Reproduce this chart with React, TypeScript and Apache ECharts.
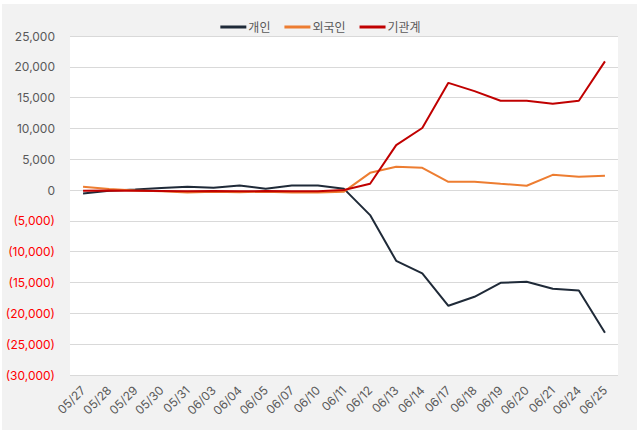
import React, { useEffect, useRef } from "react";
import * as echarts from "echarts";

const categories = ["05/27","05/28","05/29","05/30","05/31","06/03","06/04","06/05","06/07","06/10","06/11","06/12","06/13","06/14","06/17","06/18","06/19","06/20","06/21","06/24","06/25"];
const individual = [-540,-100,100,320,540,380,760,210,760,760,200,-4060,-11470,-13520,-18770,-17310,-15040,-14870,-16010,-16280,-23150];
const foreign = [540,160,-50,-200,-380,-250,-350,-250,-400,-380,-250,2800,3780,3620,1350,1350,1020,700,2480,2160,2320];
const institution = [-100,-50,-100,-150,-200,-150,-200,-150,-200,-200,0,1020,7300,10070,17400,16060,14490,14490,14000,14490,20880];
const seriesNames = ["개인","외국인","기관계"];
const seriesColors = ["#1f2a38","#ED7D31","#C00000"];

const FONT = "Inter, 'Noto Sans CJK KR', sans-serif";

function fmt(v: number) {
  const s = Math.abs(v).toLocaleString("en-US");
  return v < 0 ? `(${s})` : s;
}

export default function App() {
  const ref = useRef<HTMLDivElement>(null);
  useEffect(() => {
    if (!ref.current) return;
    const chart = echarts.init(ref.current, undefined, { renderer: "svg" });
    const data = [individual, foreign, institution];
    chart.setOption({
      animation: false,
      backgroundColor: "#ffffff",
      graphic: [
        { type: "rect", z: -10, shape: { x: 2, y: 4, width: 635, height: 426 }, style: { fill: "#f2f2f2" } },
      ],
      legend: {
        top: 16,
        left: "center",
        itemWidth: 26,
        itemHeight: 3,
        itemGap: 14,
        icon: "rect",
        textStyle: { color: "#595959", fontSize: 12, fontFamily: FONT, padding: [0, 0, 0, -3] },
        data: seriesNames,
      },
      grid: {
        left: 70, right: 23, top: 36, bottom: 60,
        show: true, backgroundColor: "#ffffff", borderWidth: 0,
      },
      xAxis: {
        type: "category",
        data: categories,
        boundaryGap: true,
        axisLine: { show: false },
        axisTick: { show: false },
        axisLabel: { rotate: 45, color: "#595959", fontSize: 12, fontFamily: FONT, margin: 13, interval: 0 },
      },
      yAxis: {
        type: "value",
        min: -30000, max: 25000, interval: 5000,
        axisLine: { show: false },
        axisTick: { show: false },
        splitLine: { lineStyle: { color: "#d9d9d9", width: 1 } },
        axisLabel: {
          formatter: (v: number) => fmt(v),
          color: (v: any) => (Number(v) < 0 ? "#ff0000" : "#595959"),
          fontSize: 12, fontFamily: FONT, margin: 15,
        },
      },
      series: seriesNames.map((n, i) => ({
        name: n,
        type: "line",
        data: data[i],
        showSymbol: false,
        symbol: "none",
        lineStyle: { width: 2, color: seriesColors[i] },
        itemStyle: { color: seriesColors[i] },
      })),
    });
    return () => chart.dispose();
  }, []);
  return <div ref={ref} style={{ position: "fixed", left: 0, top: 0, width: 641, height: 435 }} />;
}
